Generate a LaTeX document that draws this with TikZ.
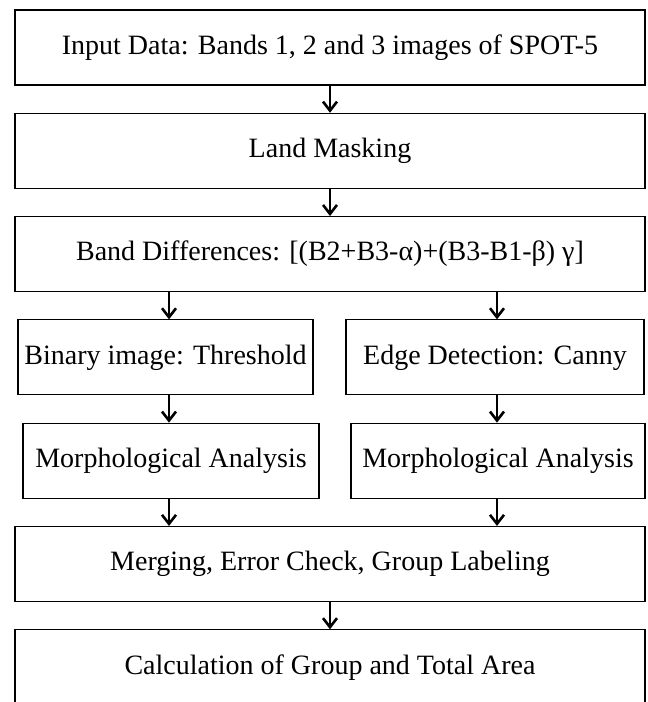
\documentclass[tikz,border=0pt]{standalone}
\usepackage{fontspec}
\setmainfont{Liberation Serif}
\usetikzlibrary{
    arrows.meta,
    calc,
    positioning,
}

\begin{document}
\begin{tikzpicture}[x=1pt,y=-1pt,>={Straight Barb[length=9pt,width=14pt,line width=2.6pt]}]

    \tikzstyle{commonNode}=[draw=black, line width=1.1pt, font=\fontsize{28}{32}\selectfont, align=center, inner sep=0pt, minimum height=75pt]
    \tikzstyle{wideStep}=[commonNode, minimum width=630pt]
    \tikzstyle{halfStep}=[commonNode, minimum width=296pt]
    \tikzstyle{post}=[->, line width=2.3pt]

    % Page frame
    \useasboundingbox (0,0) rectangle (648,702);
    \clip (0,0) rectangle (648,702);

    \begin{scope}
        % Spacing the rows out
        \def \vspacing {103.3}
        \def \rowzero {47.5}

        % Columns of the arrows
        \coordinate (colM) at (330, 0);
        \coordinate (colL) at (169, 0);
        \coordinate (colR) at (497, 0);

        % Steps
        \node at (330, \rowzero+0*\vspacing)   [wideStep]  (IN)   {Input Data: Bands 1, 2 and 3 images of SPOT-5};
        \node at (330, \rowzero+1*\vspacing)   [wideStep]  (LM)   {Land Masking};
        \node at (330, \rowzero+2*\vspacing)   [wideStep]  (BD)   {Band Differences: [(B2+B3-α)+(B3-B1-β) γ]};
        \node at (165.5, \rowzero+3*\vspacing) [halfStep, minimum width=295pt]  (BT)   {Binary image: Threshold};
        \node at (495, \rowzero+3*\vspacing)   [halfStep, minimum width=298pt]  (ED)   {Edge Detection: Canny};
        \node at (171, \rowzero+4*\vspacing)   [halfStep]  (MAL)  {Morphological Analysis};
        \node at (498, \rowzero+4*\vspacing)   [halfStep, minimum width=294pt]  (MAR)  {Morphological Analysis};
        \node at (330, \rowzero+5*\vspacing)   [wideStep]  (ME)   {Merging, Error Check, Group Labeling};
        \node at (330, \rowzero+6*\vspacing)   [wideStep]  (CA)   {Calculation of Group and Total Area};

        % Arrows
        \draw [post] (colM |- IN.south)  -- (colM |- LM.north);
        \draw [post] (colM |- LM.south)  -- (colM |- BD.north);
        \draw [post] (colL |- BD.south)  -- (colL |- BT.north);
        \draw [post] (colR |- BD.south)  -- (colR |- ED.north);
        \draw [post] (colL |- BT.south)  -- (colL |- MAL.north);
        \draw [post] (colR |- ED.south)  -- (colR |- MAR.north);
        \draw [post] (colL |- MAL.south) -- (colL |- ME.north);
        \draw [post] (colR |- MAR.south) -- (colR |- ME.north);
        \draw [post] (colM |- ME.south)  -- (colM |- CA.north);
    \end{scope}

\end{tikzpicture}
\end{document}
